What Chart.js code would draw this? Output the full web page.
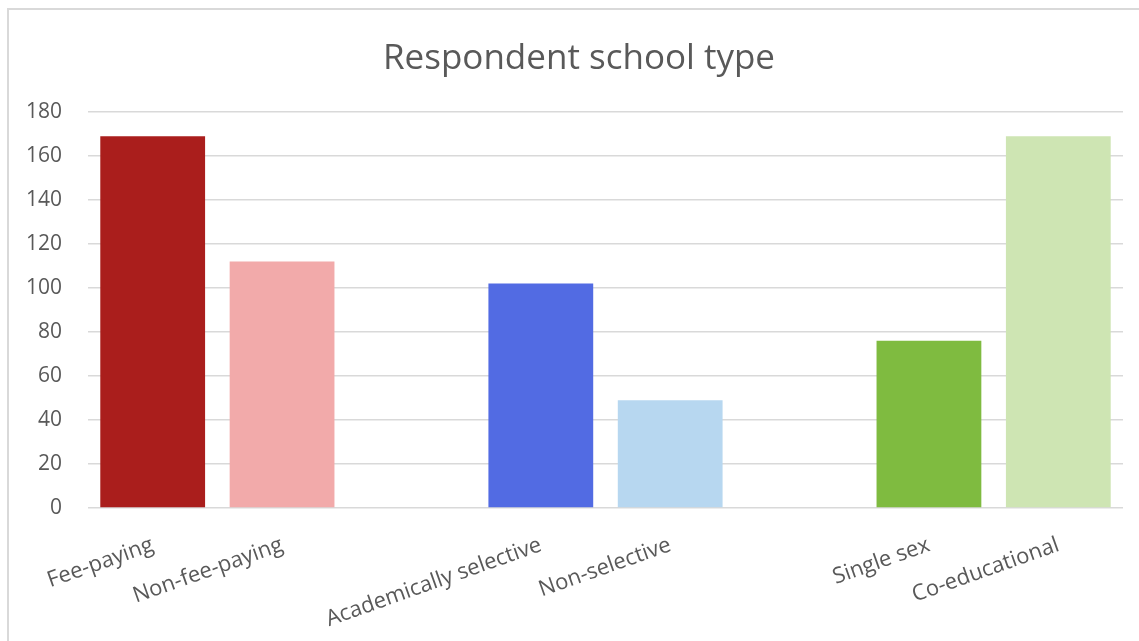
<!DOCTYPE html>
<html>
<head>
<meta charset="utf-8">
<script src="https://cdn.jsdelivr.net/npm/chart.js@4.4.1/dist/chart.umd.min.js"></script>
<style>
    html, body { margin: 0; padding: 0; background: #fff; overflow: hidden; }
    #wrap {
        position: absolute;
        left: 7px;
        top: 8px;
        width: 1142px;
        height: 640px;
        border-top: 2px solid #d9d9d9;
        border-left: 2px solid #d9d9d9;
        box-sizing: border-box;
    }
    #chart { display: block; }
</style>
</head>
<body>
<div id="wrap"><canvas id="chart" width="1140" height="631"></canvas></div>
<script>
// blank entries are the gaps between the three groups
const categories = ['Fee-paying', 'Non-fee-paying', '', 'Academically selective', 'Non-selective', '', 'Single sex', 'Co-educational'];
const respondents = [169, 112, null, 102, 49, null, 76, 169];
const barColours = ['#AA1E1C', '#F2AAAA', '#ffffff', '#526BE3', '#B7D7F0', '#ffffff', '#7FBB40', '#CEE5B3'];
const yTicks = [0, 20, 40, 60, 80, 100, 120, 140, 160, 180];

const tickColour = '#595959';
const fontFamily = '"Open Sans", "Noto Sans", sans-serif';

const ctx = document.getElementById('chart');
const chart = new Chart(ctx, {
    type: 'bar',
    data: {
        labels: categories,
        datasets: [
            {
                label: 'Respondents',
                data: respondents,
                backgroundColor: barColours,
                barPercentage: 0.81,
                categoryPercentage: 1.0
            }
        ]
    },
    options: {
        responsive: false,
        animation: false,
        layout: {
            padding: 0
        },
        plugins: {
            title: {
                display: true,
                text: 'Respondent school type',
                color: tickColour,
                font: { size: 35, family: fontFamily, weight: 'normal' },
                padding: { top: 28, bottom: 32 }
            },
            legend: { display: false },
            tooltip: { enabled: false }
        },
        scales: {
            x: {
                grid: { display: false },
                border: { display: false },
                ticks: {
                    color: tickColour,
                    font: { size: 22, family: fontFamily },
                    minRotation: 19.5,
                    maxRotation: 19.5,
                    autoSkip: false,
                    padding: 16
                },
                afterFit: function (scale) {
                    scale.height = 133;
                }
            },
            y: {
                min: 0,
                max: 180,
                afterBuildTicks: function (scale) {
                    scale.ticks = yTicks.map(v => ({ value: v }));
                },
                grid: { color: '#d9d9d9', lineWidth: 1.5, drawTicks: false },
                border: { display: false },
                ticks: {
                    color: tickColour,
                    font: { size: 21, family: fontFamily },
                    padding: 26
                },
                afterFit: function (scale) {
                    scale.width = 79;
                }
            },
            // empty right-hand axis, only keeps a margin so the title stays centred on the whole box
            yRight: {
                position: 'right',
                min: 0,
                max: 180,
                grid: { display: false },
                border: { display: false },
                ticks: { display: false },
                afterFit: function (scale) {
                    scale.width = 26;
                }
            }
        }
    }
});
</script>
</body>
</html>
